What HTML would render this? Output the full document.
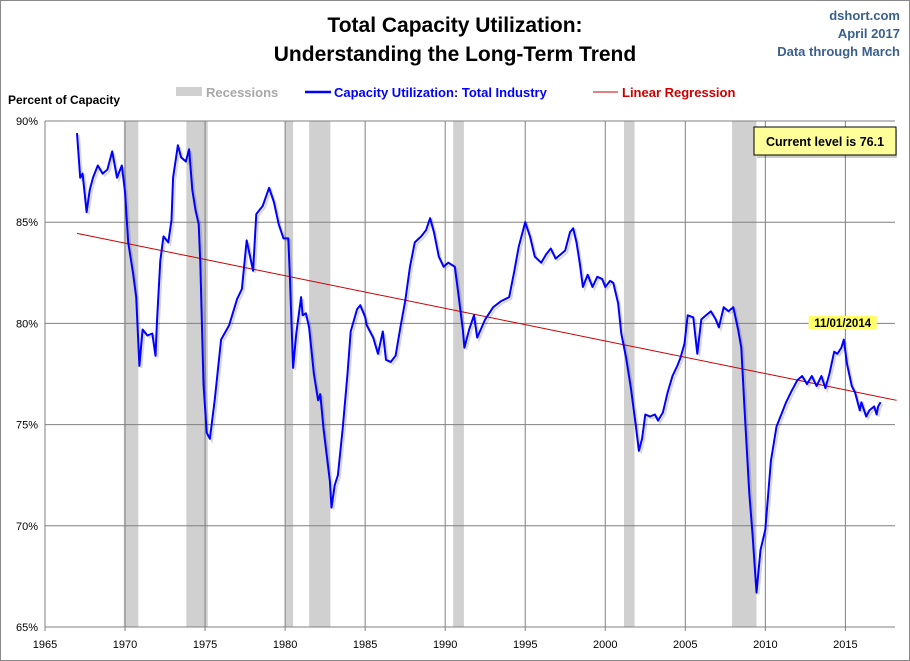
<!DOCTYPE html>
<html><head><meta charset="utf-8"><style>
html,body{margin:0;padding:0;background:#fff}
svg{display:block;font-family:"Liberation Sans",sans-serif}
</style></head><body>
<svg id="chart" width="910" height="661" viewBox="0 0 910 661" xmlns="http://www.w3.org/2000/svg">
<rect x="0.5" y="0.5" width="909" height="660" fill="#fff" stroke="#888"/>
<text x="455" y="32" text-anchor="middle" font-size="21" font-weight="bold" fill="#000">Total Capacity Utilization:</text>
<text x="455" y="61" text-anchor="middle" font-size="21" font-weight="bold" fill="#000">Understanding  the Long-Term Trend</text>
<text x="900" y="20" text-anchor="end" font-size="13" font-weight="bold" fill="#3a5f8f">dshort.com</text>
<text x="900" y="38" text-anchor="end" font-size="13" font-weight="bold" fill="#3a5f8f">April 2017</text>
<text x="900" y="56" text-anchor="end" font-size="13" font-weight="bold" fill="#3a5f8f">Data through March</text>
<text x="8" y="104" font-size="12" font-weight="bold" fill="#000">Percent of Capacity</text>
<g>
<rect x="176" y="87" width="26" height="9" fill="#d0d0d0"/>
<text x="206" y="97" font-size="13" font-weight="bold" fill="#a8a8a8">Recessions</text>
<line x1="305" y1="92" x2="331" y2="92" stroke="#0000ff" stroke-width="2.5"/>
<text x="334" y="97" font-size="13" font-weight="bold" fill="#0000ff">Capacity Utilization: Total Industry</text>
<line x1="593" y1="92" x2="618" y2="92" stroke="#cc0000" stroke-width="1"/>
<text x="622" y="97" font-size="13" font-weight="bold" fill="#cc0000">Linear Regression</text>
</g>
<g id="plot"></g>
<g>
<rect x="757" y="130" width="140" height="28" fill="#000" opacity="0.2"/>
<rect x="754" y="127" width="142" height="28" fill="#ffff99" stroke="#000" stroke-width="1"/>
<text x="825" y="146" text-anchor="middle" font-size="12.5" font-weight="bold" fill="#000">Current level is 76.1</text>
</g>
</svg>
<script>
const years = [1967.0,1967.2,1967.35,1967.6,1967.8,1968.0,1968.3,1968.6,1968.9,1969.2,1969.5,1969.8,1970.0,1970.2,1970.5,1970.7,1970.9,1971.1,1971.4,1971.7,1971.9,1972.0,1972.2,1972.4,1972.7,1972.9,1973.0,1973.3,1973.5,1973.8,1974.0,1974.2,1974.4,1974.6,1974.7,1974.9,1975.1,1975.3,1975.6,1976.0,1976.5,1977.0,1977.3,1977.6,1978.0,1978.2,1978.6,1979.0,1979.3,1979.6,1979.9,1980.2,1980.3,1980.4,1980.5,1980.7,1981.0,1981.1,1981.3,1981.5,1981.8,1982.06,1982.2,1982.4,1982.6,1982.8,1982.9,1983.1,1983.3,1983.6,1983.9,1984.1,1984.5,1984.7,1985.0,1985.1,1985.5,1985.8,1986.1,1986.3,1986.6,1986.9,1987.2,1987.5,1987.8,1988.1,1988.5,1988.8,1989.06,1989.3,1989.6,1989.9,1990.2,1990.4,1990.6,1990.8,1991.1,1991.2,1991.5,1991.8,1992.0,1992.5,1993.0,1993.5,1994.0,1994.3,1994.6,1995.0,1995.3,1995.6,1996.0,1996.3,1996.6,1996.9,1997.2,1997.5,1997.8,1998.0,1998.2,1998.4,1998.6,1998.9,1999.2,1999.5,1999.8,2000.0,2000.3,2000.5,2000.8,2001.0,2001.3,2001.6,2001.9,2002.1,2002.3,2002.5,2002.8,2003.1,2003.3,2003.6,2003.9,2004.2,2004.5,2004.7,2004.95,2005.15,2005.5,2005.75,2006.0,2006.3,2006.6,2006.9,2007.1,2007.4,2007.7,2008.0,2008.3,2008.5,2008.7,2008.8,2009.0,2009.2,2009.45,2009.7,2010.0,2010.35,2010.7,2011.0,2011.3,2011.6,2012.0,2012.3,2012.6,2012.9,2013.2,2013.5,2013.75,2014.0,2014.3,2014.5,2014.75,2014.9,2015.1,2015.4,2015.6,2015.9,2016.0,2016.3,2016.5,2016.8,2016.95,2017.05,2017.2];
const capacity = [89.4,87.2,87.4,85.5,86.6,87.2,87.8,87.4,87.6,88.5,87.2,87.8,86.5,84.0,82.5,81.3,77.9,79.7,79.4,79.5,78.4,80.2,83.1,84.3,84.0,85.1,87.2,88.8,88.2,88.0,88.6,86.6,85.6,84.9,83.0,77.0,74.6,74.3,76.2,79.2,79.9,81.2,81.7,84.1,82.6,85.4,85.8,86.7,86.0,84.9,84.2,84.2,82.3,80.0,77.8,79.5,81.3,80.4,80.5,79.8,77.5,76.2,76.5,74.8,73.5,72.2,70.9,72.0,72.5,74.8,77.5,79.6,80.7,80.9,80.3,79.9,79.3,78.5,79.6,78.2,78.1,78.4,79.8,81.1,82.8,84.0,84.3,84.6,85.2,84.5,83.3,82.8,83.0,82.9,82.8,81.6,79.7,78.8,79.7,80.4,79.3,80.2,80.8,81.1,81.3,82.5,83.8,85.0,84.3,83.3,83.0,83.4,83.7,83.2,83.4,83.6,84.5,84.7,84.0,83.0,81.8,82.4,81.8,82.3,82.2,81.8,82.1,82.0,81.0,79.5,78.3,76.8,75.0,73.7,74.3,75.5,75.4,75.5,75.2,75.6,76.6,77.4,77.9,78.3,79.0,80.4,80.3,78.5,80.2,80.4,80.6,80.2,79.8,80.8,80.6,80.8,79.7,78.8,75.8,74.4,71.6,69.6,66.7,68.8,69.8,73.2,74.9,75.5,76.1,76.6,77.2,77.4,77.0,77.4,76.9,77.4,76.8,77.5,78.6,78.5,78.8,79.2,78.0,76.9,76.6,75.7,76.1,75.4,75.7,75.9,75.5,75.9,76.1];
const recessionStarts = [1969.92,1973.83,1980.0,1981.5,1990.5,2001.17,2007.92];
const recessionEnds = [1970.83,1975.17,1980.5,1982.83,1991.17,2001.83,2009.45];
const regressionYears = [1967.0,2018.2];
const regressionValues = [84.45,76.2];
const xTicks = [1965,1970,1975,1980,1985,1990,1995,2000,2005,2010,2015];
const yTicks = [65,70,75,80,85,90];
const annotationYear = 2014.83;
const annotationLabel = "11/01/2014";

const NS="http://www.w3.org/2000/svg";
const L=45,R=895,T=121,B=627,X0=1965,X1=2018.1,Y0=65,Y1=90;
function xs(v){return L+(v-X0)/(X1-X0)*(R-L);}
function ys(v){return B-(v-Y0)/(Y1-Y0)*(B-T);}
const plot=document.getElementById('plot');
function mk(tag,attrs,parent){const e=document.createElementNS(NS,tag);for(const k in attrs)e.setAttribute(k,attrs[k]);(parent||plot).appendChild(e);return e;}

for(let i=0;i<recessionStarts.length;i++){
  const r=mk('rect',{x:xs(recessionStarts[i]),y:T,width:xs(recessionEnds[i])-xs(recessionStarts[i]),height:B-T,fill:'#d0d0d0'});
  
  
}
yTicks.forEach(t=>{
  const g=mk('line',{x1:L,x2:R,y1:ys(t),y2:ys(t),stroke:'#808080','stroke-width':1});
  
  
  const lb=mk('text',{x:L-7,y:ys(t)+4,'text-anchor':'end','font-size':11,fill:'#000'});
  lb.textContent=t+'%';
  
  
});
xTicks.forEach(t=>{
  const g=mk('line',{x1:xs(t),x2:xs(t),y1:T,y2:B+4,stroke:'#808080','stroke-width':1});
  
  
  const lb=mk('text',{x:xs(t),y:B+21,'text-anchor':'middle','font-size':11,fill:'#000'});
  lb.textContent=t;
  
  
});
const reg=mk('line',{x1:xs(regressionYears[0]),y1:ys(regressionValues[0]),x2:xs(regressionYears[1]),y2:ys(regressionValues[1]),stroke:'#cc0000','stroke-width':1});


let d='';
years.forEach((y,i)=>{d+=(i?'L':'M')+xs(y).toFixed(1)+','+ys(capacity[i]).toFixed(1);});
const sh=mk('path',{d:d,fill:'none',stroke:'#000','stroke-opacity':0.15,'stroke-width':2,transform:'translate(2,2)'});


const ln=mk('path',{d:d,fill:'none',stroke:'#0000ff','stroke-width':2,'stroke-linejoin':'round'});


const ax=xs(annotationYear);
const ab=mk('rect',{x:ax-34,y:316,width:68,height:13,fill:'#ffff66'});


const at=mk('text',{x:ax,y:327,'text-anchor':'middle','font-size':11.5,'font-weight':'bold',fill:'#000'});
at.textContent=annotationLabel;


</script>
</body></html>
